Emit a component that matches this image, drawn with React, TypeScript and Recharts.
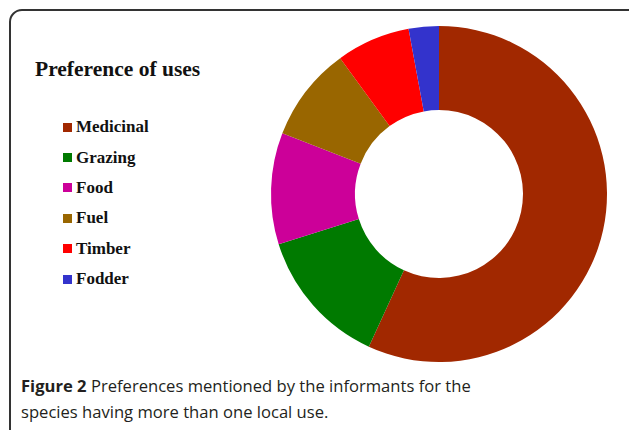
import { PieChart, Pie, Cell, Legend } from 'recharts'

const categories = ['Medicinal', 'Grazing', 'Food', 'Fuel', 'Timber', 'Fodder']
const shares = [56.8, 13.3, 10.7, 9.1, 7.1, 2.9]
const colors = ['#a12800', '#007a00', '#cc0099', '#996600', '#ff0000', '#3333cc']

const data = categories.map((name, i) => ({ name, value: shares[i] }))

const LegendList = ({ payload }: any) => {
  const items = [...(payload || [])].sort(
    (a: any, b: any) => categories.indexOf(a.value) - categories.indexOf(b.value)
  )
  return (
    <div>
      {items.map((entry: any) => (
        <div
          key={entry.value}
          style={{ display: 'flex', alignItems: 'center', height: 30.4 }}
        >
          <span
            style={{ width: 9, height: 9, background: entry.color, marginRight: 4, flexShrink: 0 }}
          />
          <span
            style={{
              fontFamily: '"Liberation Serif", "Times New Roman", serif',
              fontWeight: 'bold',
              fontSize: 17,
              color: '#111',
            }}
          >
            {entry.value}
          </span>
        </div>
      ))}
    </div>
  )
}

export default function App() {
  return (
    <div
      style={{
        position: 'fixed',
        left: 0,
        top: 0,
        width: 629,
        height: 430,
        overflow: 'hidden',
        background: '#fff',
      }}
    >
      <div
        style={{
          position: 'absolute',
          left: 9,
          top: 9,
          width: 660,
          height: 460,
          border: '2px solid #333',
          borderRadius: 13,
          boxSizing: 'border-box',
        }}
      />
      <div
        style={{
          position: 'absolute',
          left: 35,
          top: 57,
          fontFamily: '"Liberation Serif", "Times New Roman", serif',
          fontWeight: 'bold',
          fontSize: 21.5,
          color: '#111',
          whiteSpace: 'nowrap',
        }}
      >
        Preference of uses
      </div>
      <div style={{ position: 'absolute', left: 0, top: 0 }}>
        <PieChart width={629} height={430} margin={{ top: 0, right: 0, bottom: 0, left: 0 }}>
          <Pie
            data={data}
            dataKey="value"
            nameKey="name"
            cx={439}
            cy={194}
            innerRadius={84}
            outerRadius={168}
            startAngle={90}
            endAngle={-270}
            stroke="none"
            isAnimationActive={false}
          >
            {data.map((d, i) => (
              <Cell key={d.name} fill={colors[i]} />
            ))}
          </Pie>
          <Legend
            layout="vertical"
            align="center"
            verticalAlign="middle"
            content={<LegendList />}
            wrapperStyle={{ left: 63, top: 112, width: 150, transform: 'none' }}
          />
        </PieChart>
      </div>
      <div
        style={{
          position: 'absolute',
          left: 21,
          top: 373,
          fontFamily: '"Open Sans", "Noto Sans", sans-serif',
          fontSize: 16.6,
          lineHeight: '26px',
          color: '#231f20',
          whiteSpace: 'nowrap',
        }}
      >
        <b>Figure 2</b> Preferences mentioned by the informants for the
        <br />
        species having more than one local use.
      </div>
    </div>
  )
}
